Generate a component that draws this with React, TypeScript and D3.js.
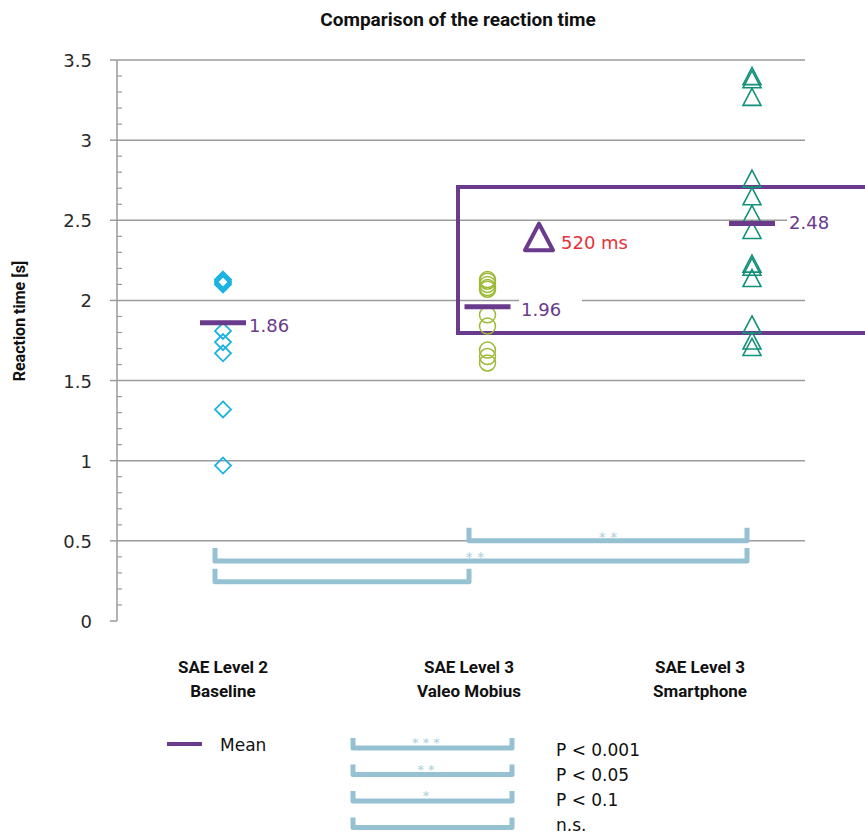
import React from "react";
import * as d3 from "d3";

const categories = ["Baseline", "Valeo Mobius", "Smartphone"];
const categoryLines = [
  ["SAE Level 2", "Baseline"],
  ["SAE Level 3", "Valeo Mobius"],
  ["SAE Level 3", "Smartphone"],
];
const baselineValues = [2.13, 2.12, 2.11, 2.1, 1.81, 1.74, 1.67, 1.32, 0.97];
const valeoValues = [2.13, 2.12, 2.1, 2.08, 2.07, 1.91, 1.84, 1.69, 1.65, 1.61];
const smartphoneValues = [3.4, 3.38, 3.27, 2.76, 2.65, 2.54, 2.44, 2.23, 2.21, 2.14, 1.85, 1.75, 1.71];
const means = [1.86, 1.96, 2.48];
const yTicks = [0, 0.5, 1, 1.5, 2, 2.5, 3, 3.5];
const comparisons = [
  { from: 1, to: 2, stars: "**" },
  { from: 0, to: 2, stars: "**" },
  { from: 0, to: 1, stars: "" },
];
const legendLevels = [
  { stars: "***", label: "P < 0.001" },
  { stars: "**", label: "P < 0.05" },
  { stars: "*", label: "P < 0.1" },
  { stars: "", label: "n.s." },
];
const deltaLabel = "520 ms";

const W = 865, H = 834;
const PURPLE = "#6a3a8c";
const CYAN = "#1bb3e3";
const OLIVE = "#9cba36";
const TEAL = "#13917a";
const BRACKET = "#95c1d2";
const STAR = "#a9cfdd";
const RED = "#e5323a";
const GRID = "#9a9a9a";
const TEXT = "#2a2a2a";
const REG = "'DejaVu Sans', sans-serif";
const BOLD = "Roboto, 'Liberation Sans', sans-serif";

export default function App() {
  const y = d3.scaleLinear().domain([0, 3.5]).range([621, 60]);
  const x = d3.scalePoint<string>().domain(categories).range([223, 752]);
  const left = 117, right = 805;
  const labelX = [223, 469, 700];
  const bracketX = [215, 469, 747];
  const bracketY = [0.5, 0.375, 0.245];
  const meanLabelX = [249, 521, 789];
  const meanLabelDy = [9, 9, 6];
  const meanBgW = [44, 63, 60];

  const minorTicks = d3.range(0, 35).map((i) => i / 10).filter((v) => Math.round(v * 10) % 5 !== 0);

  const tri = (cx: number, cy: number, s: number) => {
    const h = s * 0.95;
    return `M${cx},${cy - h / 2}L${cx + s / 2},${cy + h / 2}L${cx - s / 2},${cy + h / 2}Z`;
  };
  const diamond = (cx: number, cy: number, r: number) =>
    `M${cx},${cy - r}L${cx + r},${cy}L${cx},${cy + r}L${cx - r},${cy}Z`;

  const bracketPath = (x1: number, x2: number, yb: number, h: number) =>
    `M${x1},${yb - h}V${yb}H${x2}V${yb - h}`;

  return (
    <svg width={W} height={H} style={{ display: "block", position: "absolute", left: 0, top: 0, background: "#fff" }}>
      <text x={458} y={26} textAnchor="middle" fontWeight="bold" fontSize={19} fill="#111" fontFamily={BOLD}>
        Comparison of the reaction time
      </text>
      <text transform={`translate(25,321) rotate(-90)`} textAnchor="middle" fontWeight="bold" fontSize={16} fill="#111" fontFamily={BOLD}>
        Reaction time [s]
      </text>

      {/* gridlines */}
      {yTicks.filter((t) => t > 0).map((t) => (
        <line key={t} x1={left} x2={right} y1={y(t)} y2={y(t)} stroke={GRID} strokeWidth={1.5} />
      ))}
      {/* axis */}
      <line x1={left} x2={left} y1={y(3.5)} y2={y(0)} stroke={GRID} strokeWidth={1.5} />
      {yTicks.map((t) => (
        <g key={t}>
          <line x1={left - 7} x2={left} y1={y(t)} y2={y(t)} stroke={GRID} strokeWidth={1.5} />
          <text x={92} y={y(t) + 7} textAnchor="end" fontSize={18} fill={TEXT} fontFamily={REG}>
            {t}
          </text>
        </g>
      ))}
      {minorTicks.map((t) => (
        <line key={t} x1={left} x2={left + 5} y1={y(t)} y2={y(t)} stroke={GRID} strokeWidth={1.2} />
      ))}

      {/* category labels */}
      {categoryLines.map((lines, i) => (
        <text key={i} x={labelX[i]} textAnchor="middle" fontWeight="bold" fontSize={17} fill="#111" fontFamily={BOLD}>
          <tspan x={labelX[i]} y={673}>{lines[0]}</tspan>
          <tspan x={labelX[i]} y={697}>{lines[1]}</tspan>
        </text>
      ))}

      {/* brackets */}
      {comparisons.map((c, i) => {
        const yb = y(bracketY[i]);
        const x1 = bracketX[c.from], x2 = bracketX[c.to];
        return (
          <g key={i}>
            <path d={bracketPath(x1, x2, yb, 13)} fill="none" stroke={BRACKET} strokeWidth={5} strokeLinejoin="round" />
            {c.stars && (
              <text x={(x1 + x2) / 2 + (i === 1 ? -6 : 0)} y={yb + 1} textAnchor="middle" fontSize={14} fill={STAR} fontFamily={REG}>
                {c.stars.split("").join(" ")}
              </text>
            )}
          </g>
        );
      })}

      {/* purple highlight box */}
      <rect x={458} y={187} width={450} height={146} fill="none" stroke={PURPLE} strokeWidth={4} />

      {/* baseline diamonds */}
      {baselineValues.map((v, i) => (
        <path key={i} d={diamond(x("Baseline")!, y(v), 8)} fill="none" stroke={CYAN} strokeWidth={1.8} />
      ))}
      {/* valeo circles */}
      {valeoValues.map((v, i) => (
        <circle key={i} cx={x("Valeo Mobius")!} cy={y(v)} r={8} fill="none" stroke={OLIVE} strokeWidth={1.5} />
      ))}
      {/* smartphone triangles */}
      {smartphoneValues.map((v, i) => (
        <path key={i} d={tri(x("Smartphone")!, y(v), 18)} fill="none" stroke={TEAL} strokeWidth={1.6} />
      ))}

      {/* means */}
      {means.map((m, i) => {
        const cx = x(categories[i])!;
        const label = m.toFixed(2);
        return (
          <g key={i}>
            <line x1={cx - 23} x2={cx + 23} y1={y(m)} y2={y(m)} stroke={PURPLE} strokeWidth={5} />
            {i > 0 && <rect x={meanLabelX[i] - 2} y={y(m) - 13} width={meanBgW[i]} height={22} fill="#fff" />}
            <text x={meanLabelX[i]} y={y(m) + meanLabelDy[i]} fontSize={18} fill={PURPLE} fontFamily={REG}>{label}</text>
          </g>
        );
      })}

      {/* delta annotation */}
      <path d={tri(539, 237, 28)} fill="none" stroke={PURPLE} strokeWidth={4} strokeLinejoin="round" />
      <text x={561} y={249} fontSize={18} fill={RED} fontFamily={REG}>{deltaLabel}</text>

      {/* legend */}
      <line x1={167} x2={202} y1={744} y2={744} stroke={PURPLE} strokeWidth={4} />
      <text x={220} y={751} fontSize={17} fill="#111" fontFamily={REG}>Mean</text>
      {legendLevels.map((l, i) => {
        const yb = 748 + i * 26.5;
        return (
          <g key={i}>
            <path d={bracketPath(353, 512, yb, 10)} fill="none" stroke={BRACKET} strokeWidth={5} strokeLinejoin="round" />
            {l.stars && (
              <text x={426} y={yb - 1} textAnchor="middle" fontSize={13} fill={STAR} fontFamily={REG}>
                {l.stars.split("").join(" ")}
              </text>
            )}
            <text x={556} y={756 + i * 25} fontSize={17} fill="#111" fontFamily={REG}>{l.label}</text>
          </g>
        );
      })}
    </svg>
  );
}
